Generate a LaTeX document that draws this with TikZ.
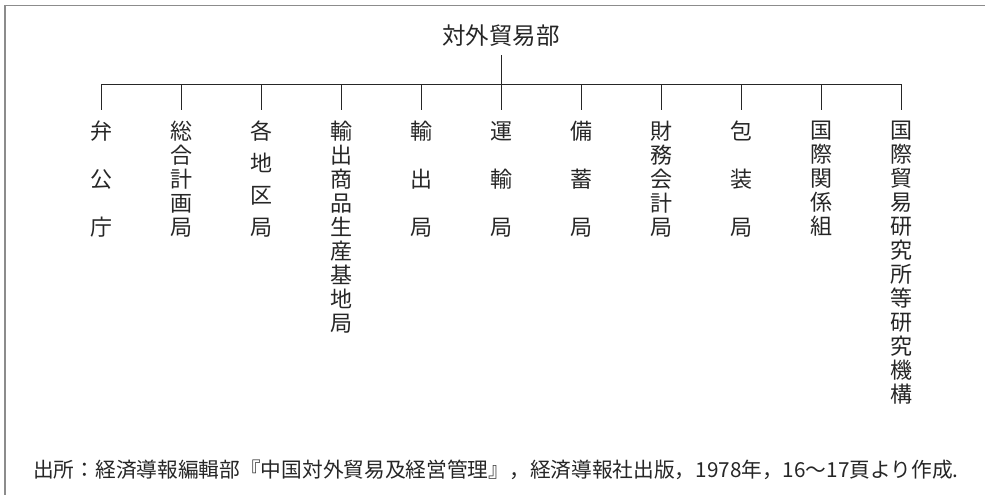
\documentclass[tikz,border=0pt]{standalone}
\usepackage{fontspec}
\newfontfamily\jpf{Noto Sans CJK JP}
\definecolor{framecol}{RGB}{140,140,140}
\tikzset{
  conn/.style={draw=black!85, line width=0.9pt},
  col/.style={anchor=north, inner sep=0pt, align=center, text=black!85},
  dense/.style={col, font=\jpf\fontsize{22}{24}\selectfont},
  midsp/.style={col, font=\jpf\fontsize{22}{32}\selectfont},
  widesp/.style={col, font=\jpf\fontsize{22}{48}\selectfont},
}
\begin{document}
\begin{tikzpicture}[x=1pt,y=-1pt]
\useasboundingbox (0,0) rectangle (985,495);
\coordinate (fbl) at (5,495);
\coordinate (ftl) at (5,5.5);
\coordinate (ftr) at (985,5.5);
\draw[framecol, line width=1.6pt] (fbl) -- (ftl) -- (ftr);

\node[inner sep=0pt, font=\jpf\fontsize{23.5}{26}\selectfont, text=black!85] (top) at (501,36) {対外貿易部};
\coordinate (hub) at (501,84);

\node[widesp] (c1)  at (101,121) {弁\\公\\庁};
\node[dense]  (c2)  at (181,121) {総\\合\\計\\画\\局};
\node[midsp]  (c3)  at (261,121) {各\\地\\区\\局};
\node[dense]  (c4)  at (341,121) {輸\\出\\商\\品\\生\\産\\基\\地\\局};
\node[widesp] (c5)  at (421,121) {輸\\出\\局};
\node[widesp] (c6)  at (501,121) {運\\輸\\局};
\node[widesp] (c7)  at (581,121) {備\\蓄\\局};
\node[dense]  (c8)  at (661,121) {財\\務\\会\\計\\局};
\node[widesp] (c9)  at (741,121) {包\\装\\局};
\node[dense]  (c10) at (821,121) {国\\際\\関\\係\\組};
\node[dense]  (c11) at (901,121) {国\\際\\貿\\易\\研\\究\\所\\等\\研\\究\\機\\構};

\draw[conn] (top.south) ++(0,8) coordinate (tstem) -- (hub);
\foreach \i in {1,...,11}{
  \draw[conn] (hub) -| ([yshift=11pt]c\i.north);
}

\node[anchor=west, inner sep=0pt, font=\jpf\fontsize{20.7}{23}\selectfont, text=black!85] (src) at (33,470)
  {出所：経済導報編輯部『中国対外貿易及経営管理』，経済導報社出版，1978年，16～17頁より作成.};
\end{tikzpicture}
\end{document}
